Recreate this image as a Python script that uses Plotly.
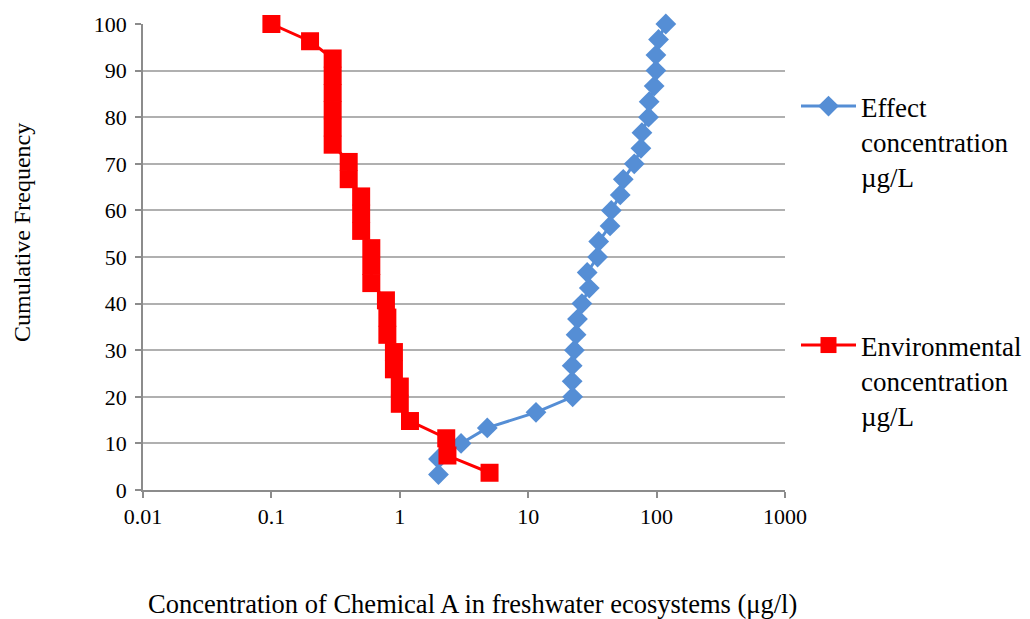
import plotly.graph_objects as go

# Effect concentration (µg/L) and cumulative frequency (%)
effect_conc = [2.0, 2.0, 3.0, 4.8, 11.5, 22.2, 22.0, 22.0, 22.9, 23.6, 24.2, 26.2, 29.9, 28.8, 34.7,
               35.4, 43.4, 44.4, 52.1, 55.0, 67.0, 75.5, 76.9, 86.5, 87.5, 95.7, 98.8, 98.8, 103.5, 118.0]
effect_freq = [3.33, 6.67, 10.0, 13.33, 16.67, 20.0, 23.33, 26.67, 30.0, 33.33, 36.67, 40.0, 43.33, 46.67, 50.0,
               53.33, 56.67, 60.0, 63.33, 66.67, 70.0, 73.33, 76.67, 80.0, 83.33, 86.67, 90.0, 93.33, 96.67, 100.0]

# Environmental concentration (µg/L) and cumulative frequency (%)
env_conc = [5.0, 2.35, 2.3, 1.2, 1.0, 1.0, 0.9, 0.9, 0.8, 0.8, 0.78, 0.6, 0.6, 0.6, 0.5, 0.5, 0.5,
            0.4, 0.4, 0.3, 0.3, 0.3, 0.3, 0.3, 0.3, 0.2, 0.1]
env_freq = [3.7, 7.4, 11.1, 14.8, 18.5, 22.2, 25.9, 29.6, 33.3, 37.0, 40.7, 44.4, 48.1, 51.9, 55.6, 59.3,
            63.0, 66.7, 70.4, 74.1, 77.8, 81.5, 85.2, 88.9, 92.6, 96.3, 100.0]

x_ticks = [0.01, 0.1, 1, 10, 100, 1000]
x_tick_labels = ["0.01", "0.1", "1", "10", "100", "1000"]
y_ticks = [0, 10, 20, 30, 40, 50, 60, 70, 80, 90, 100]

FONT = "Liberation Serif, Times New Roman, serif"

fig = go.Figure()
fig.add_trace(go.Scatter(
    x=effect_conc, y=effect_freq, mode="lines+markers",
    name="Effect<br>concentration<br>µg/L",
    line=dict(color="#558ed5", width=3),
    marker=dict(symbol="diamond", size=16, color="#558ed5"),
    cliponaxis=False,
    legend="legend",
))
fig.add_trace(go.Scatter(
    x=env_conc, y=env_freq, mode="lines+markers",
    name="Environmental<br>concentration<br>µg/L",
    line=dict(color="#ff0000", width=3),
    marker=dict(symbol="square", size=18, color="#ff0000"),
    cliponaxis=False,
    legend="legend2",
))

legend_common = dict(
    xref="container", yref="container",
    xanchor="left", yanchor="top", valign="top",
    font=dict(family=FONT, size=27, color="#000000"),
    bgcolor="rgba(0,0,0,0)", itemwidth=55, borderwidth=0,
)

fig.update_layout(
    width=1030, height=619,
    margin=dict(l=143, r=245, t=24, b=129, autoexpand=False),
    plot_bgcolor="white", paper_bgcolor="white",
    font=dict(family=FONT, color="#000000"),
    showlegend=True,
    legend=dict(x=796 / 1030, y=1 - 82 / 619, **legend_common),
    legend2=dict(x=796 / 1030, y=1 - 321 / 619, **legend_common),
    xaxis=dict(
        type="log", range=[-2, 3],
        tickvals=x_ticks, ticktext=x_tick_labels,
        tickfont=dict(family=FONT, size=22, color="#000000"),
        showgrid=False, showline=True, linecolor="#8c8c8c", linewidth=1.5,
        ticks="outside", ticklen=6, tickcolor="#8c8c8c", tickwidth=1.5,
        zeroline=False,
    ),
    yaxis=dict(
        range=[0, 100], tickvals=y_ticks,
        tickfont=dict(family=FONT, size=22, color="#000000"),
        ticklabelstandoff=4,
        showgrid=True, gridcolor="#b0b0b0", gridwidth=1.5,
        showline=True, linecolor="#8c8c8c", linewidth=1.5,
        ticks="outside", ticklen=6, tickcolor="#8c8c8c", tickwidth=1.5,
        zeroline=False,
    ),
    annotations=[
        dict(text="Concentration of Chemical A in freshwater ecosystems (μg/l)",
             xref="paper", yref="paper", x=0.514, y=-0.245,
             xanchor="center", yanchor="middle", showarrow=False,
             font=dict(family=FONT, size=26.5, color="#000000")),
        dict(text="Cumulative Frequency",
             xref="paper", yref="paper", x=-0.1885, y=0.5536,
             xanchor="center", yanchor="middle", showarrow=False, textangle=-90,
             font=dict(family=FONT, size=24, color="#000000")),
    ],
)

fig.write_html("out.html")
